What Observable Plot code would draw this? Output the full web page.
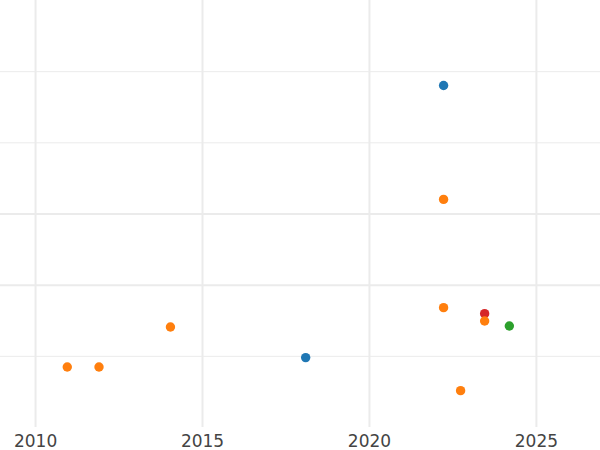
<!DOCTYPE html>
<html>
<head>
<meta charset="utf-8">
<script src="https://cdn.jsdelivr.net/npm/d3@7"></script>
<script src="https://cdn.jsdelivr.net/npm/@observablehq/plot@0.6"></script>
<style>
  html, body { margin: 0; padding: 0; background: #fff; }
  #chart svg { display: block; }
</style>
</head>
<body>
<div id="chart"></div>
<script>
// Data
const years  = [2022.22, 2022.22, 2022.22, 2023.45, 2023.45, 2024.19, 2014.04, 2018.09, 2010.95, 2011.90, 2022.73];
const values = [4.806,   3.205,   1.684,   1.600,   1.496,   1.426,   1.412,   0.982,   0.850,   0.850,   0.518];
const series = ["A",     "B",     "B",     "D",     "B",     "C",     "B",     "A",     "B",     "B",     "B"];
const seriesNames  = ["A", "B", "C", "D"];
const seriesColors = ["#1f77b4", "#ff7f0e", "#2ca02c", "#d62728"];
const xTicks = [2010, 2015, 2020, 2025];
const yGrid = [1, 2, 3, 4, 5];
const yGridWidth = [1, 2, 2, 1, 1];

const data = years.map((y, i) => ({year: y, value: values[i], series: series[i]}));
const grid = yGrid.map((v, i) => ({v, w: yGridWidth[i]}));

const chart = Plot.plot({
  width: 600,
  height: 450,
  marginLeft: 0,
  marginRight: 0,
  marginTop: 0,
  marginBottom: 23,
  style: {fontFamily: "DejaVu Sans", fontSize: "17px", color: "#444", background: "#fff"},
  x: {domain: [2008.95, 2026.92], ticks: xTicks, tickFormat: d => String(d), tickSize: 0, tickPadding: 7, label: null},
  y: {domain: [0, 6], axis: null},
  color: {domain: seriesNames, range: seriesColors},
  marks: [
    Plot.ruleX(xTicks, {stroke: "#ebebeb", strokeWidth: 2, strokeOpacity: 1}),
    Plot.ruleY(grid, {y: "v", stroke: "#ebebeb", strokeWidth: "w", strokeOpacity: 1}),
    Plot.dot(data, {x: "year", y: "value", fill: "series", r: 4.7, stroke: null}),
    Plot.axisX({ticks: xTicks, tickFormat: d => String(d), tickSize: 0, tickPadding: 7, label: null, fill: "#444"})
  ]
});
document.getElementById("chart").appendChild(chart);
</script>
</body>
</html>
